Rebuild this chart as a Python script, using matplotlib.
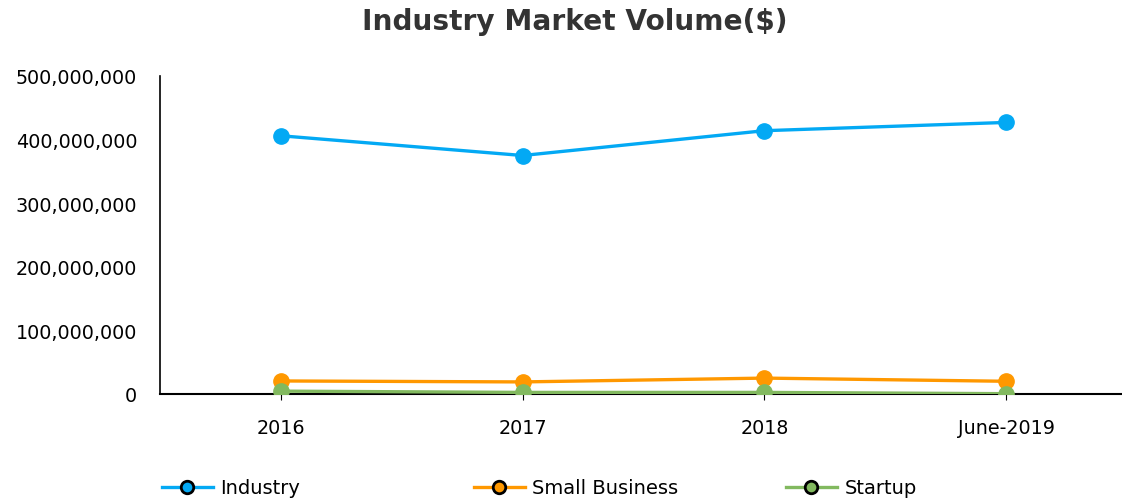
import matplotlib
matplotlib.use("Agg")
import matplotlib.pyplot as plt
from matplotlib.lines import Line2D
from matplotlib.ticker import FuncFormatter

periods = ["2016", "2017", "2018", "June-2019"]
industry = [406e6, 375e6, 414e6, 427e6]
small_business = [20.5e6, 19e6, 25e6, 20e6]
startup = [4.5e6, 2.5e6, 2.5e6, 0.5e6]

SERIES = [
    ("Industry", industry, "#03a9f4"),
    ("Small Business", small_business, "#ff9800"),
    ("Startup", startup, "#82b95f"),
]

fig = plt.figure(figsize=(11.22, 5.02), dpi=100)
# plot area runs a few px past the right edge of the figure, as in the source
ax = fig.add_axes([160 / 1122, 1 - 395 / 502, 967 / 1122, 318 / 502])

x = range(len(periods))
for name, vals, c in SERIES:
    ax.plot(x, vals, color=c, lw=2.4, marker="o", ms=11, mec=c, mfc=c, zorder=3)

ax.set_xlim(-0.5, 3.5)
ax.set_ylim(0, 500e6)
ax.set_yticks([0, 100e6, 200e6, 300e6, 400e6, 500e6])
ax.yaxis.set_major_formatter(FuncFormatter(lambda v, _: f"{v:,.0f}"))
ax.set_xticks(list(x))
ax.set_xticklabels(periods)
ax.tick_params(axis="y", length=0, labelsize=13.8, pad=16.5)
ax.tick_params(axis="x", length=4, labelsize=13.8, pad=13)
for s in ("top", "right"):
    ax.spines[s].set_visible(False)
ax.spines["left"].set_linewidth(1.2)
ax.spines["bottom"].set_linewidth(1.5)

fig.text(575 / 1122, 1 - 22 / 502, "Industry Market Volume($)", ha="center", va="center",
         fontsize=20.2, fontweight="bold", color="#333333")

# one legend per entry so the items sit on a fixed 312 px pitch
for i, (name, _, c) in enumerate(SERIES):
    h = Line2D([], [], color=c, lw=2.4, marker="o", ms=9, mfc=c, mec="black", mew=2)
    leg = fig.legend([h], [name], loc="center left",
                     bbox_to_anchor=((162 + 312 * i) / 1122, 1 - 489 / 502),
                     frameon=False, fontsize=14, handlelength=2.6, handletextpad=0.4,
                     borderaxespad=0, borderpad=0)

fig.savefig("out.png", dpi=100)
